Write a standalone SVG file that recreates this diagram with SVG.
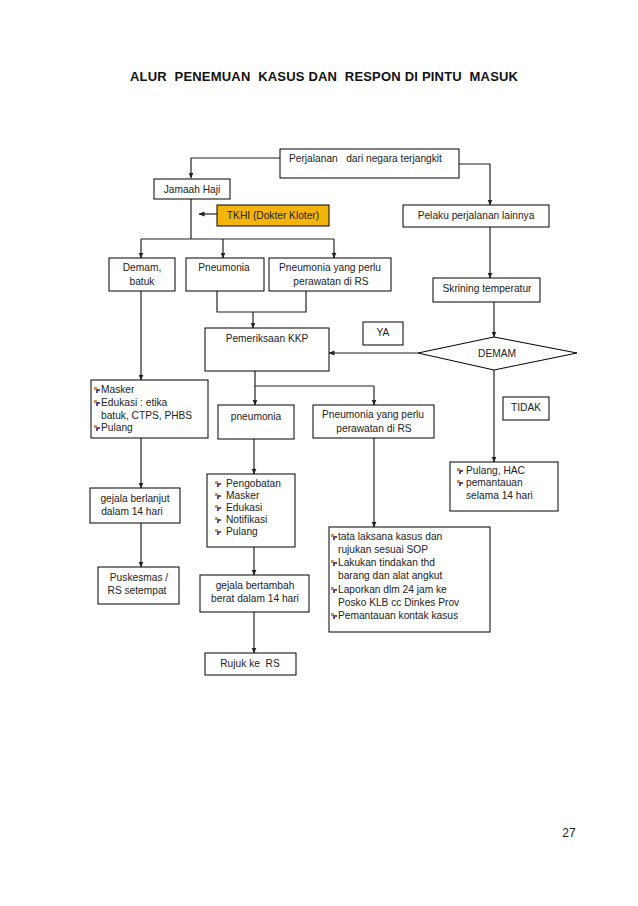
<svg xmlns="http://www.w3.org/2000/svg" xmlns:xlink="http://www.w3.org/1999/xlink" width="638" height="906" viewBox="0 0 638 906">
<defs>
<style>
.b{fill:#fff;stroke:#000;stroke-width:1}
.t{font-family:"Liberation Sans",Arial,sans-serif;font-size:10.2px;fill:#222}
.c{text-anchor:middle}
.l{fill:none;stroke:#222;stroke-width:1.2}
</style>
<marker id="ah" markerWidth="6" markerHeight="6" refX="5.5" refY="3" orient="auto" markerUnits="userSpaceOnUse">
<path d="M0,0.5 L6,3 L0,5.5 z" fill="#222"/>
</marker>
<symbol id="bul" viewBox="0 0 8 8">
<path d="M1,1 L3,1 L3,4 L1,4 z" fill="#e08a3c"/>
<path d="M3,3 L7,3 L7,5 L5,5 L5,7 L3,7 z" fill="#5a4a9a"/>
<path d="M3,1 L4,1 L4,3 L3,3 z" fill="#e0a050"/>
</symbol>
</defs>
<rect width="638" height="906" fill="#fff"/>
<text x="324" y="81" font-family="Liberation Sans,Arial,sans-serif" font-size="13" font-weight="bold" text-anchor="middle" fill="#111" textLength="388" lengthAdjust="spacing" xml:space="preserve">ALUR  PENEMUAN  KASUS DAN  RESPON DI PINTU  MASUK</text>

<g id="connectors">
<path class="l" d="M280,158 H191 V178" marker-end="url(#ah)"/>
<path class="l" d="M459,164 H490 V205" marker-end="url(#ah)"/>
<path class="l" d="M217,214 H199" marker-end="url(#ah)"/>
<path class="l" d="M191,198 V239"/>
<path class="l" d="M141,239 H334"/>
<path class="l" d="M141,239 V258" marker-end="url(#ah)"/>
<path class="l" d="M223,239 V258" marker-end="url(#ah)"/>
<path class="l" d="M334,239 V258" marker-end="url(#ah)"/>
<path class="l" d="M217,291 V312 H306 V291"/>
<path class="l" d="M253,312 V328" marker-end="url(#ah)"/>
<path class="l" d="M490,227 V278" marker-end="url(#ah)"/>
<path class="l" d="M494,302 V337" marker-end="url(#ah)"/>
<path class="l" d="M418,353 H329" marker-end="url(#ah)"/>
<path class="l" d="M141,291 V380" marker-end="url(#ah)"/>
<path class="l" d="M255,371 V386 H374"/>
<path class="l" d="M255,386 V405" marker-end="url(#ah)"/>
<path class="l" d="M374,386 V405" marker-end="url(#ah)"/>
<path class="l" d="M494,370 V462" marker-end="url(#ah)"/>
<path class="l" d="M141,438 V488" marker-end="url(#ah)"/>
<path class="l" d="M254,439 V474" marker-end="url(#ah)"/>
<path class="l" d="M374,438 V527" marker-end="url(#ah)"/>
<path class="l" d="M141,523 V567" marker-end="url(#ah)"/>
<path class="l" d="M254,547 V575" marker-end="url(#ah)"/>
<path class="l" d="M254,612 V653" marker-end="url(#ah)"/>
</g>

<g id="perjalanan"><rect class="b" x="280" y="149" width="179" height="29"/><text class="t" x="289" y="162" xml:space="preserve">Perjalanan   dari negara terjangkit</text></g>
<g id="jamaah"><rect class="b" x="154" y="179" width="76" height="20"/><text class="t c" x="192" y="193">Jamaah Haji</text></g>
<g id="tkhi"><rect x="217" y="205" width="112" height="21" fill="#f5b40a" stroke="#000" stroke-width="1"/><text class="t c" x="273" y="219">TKHI (Dokter Kloter)</text></g>
<g id="pelaku"><rect class="b" x="403" y="205" width="146" height="22"/><text class="t c" x="476" y="219">Pelaku perjalanan lainnya</text></g>
<g id="demam-batuk"><rect class="b" x="109" y="258" width="66" height="33"/><text class="t c" x="142" y="271">Demam,</text><text class="t c" x="142" y="285">batuk</text></g>
<g id="pneumonia1"><rect class="b" x="186" y="258" width="78" height="33"/><text class="t c" x="224" y="271">Pneumonia</text></g>
<g id="pneumonia-rs1"><rect class="b" x="269" y="258" width="122" height="33"/><text class="t c" x="330" y="271">Pneumonia yang perlu</text><text class="t c" x="331" y="285">perawatan di RS</text></g>
<g id="skrining"><rect class="b" x="433" y="278" width="107" height="24"/><text class="t c" x="487" y="292">Skrining temperatur</text></g>
<g id="kkp"><rect class="b" x="205" y="328" width="124" height="43"/><text class="t c" x="267" y="342">Pemeriksaan KKP</text></g>
<g id="ya"><rect class="b" x="363" y="322" width="40" height="23"/><text class="t c" x="383" y="336">YA</text></g>
<g id="demam"><path class="b" d="M418,353 L494,337 L577,353 L494,370 z"/><text class="t c" x="497" y="357">DEMAM</text></g>
<g id="masker"><rect class="b" x="91" y="380" width="117" height="58"/>
<use xlink:href="#bul" x="93" y="386" width="8" height="8"/><text class="t" x="101" y="393">Masker</text>
<use xlink:href="#bul" x="93" y="399" width="8" height="8"/><text class="t" x="101" y="406">Edukasi : etika</text>
<text class="t" x="101" y="419">batuk, CTPS, PHBS</text>
<use xlink:href="#bul" x="93" y="424" width="8" height="8"/><text class="t" x="101" y="431">Pulang</text></g>
<g id="pneumonia2"><rect class="b" x="218" y="405" width="76" height="34"/><text class="t c" x="256" y="420">pneumonia</text></g>
<g id="pneumonia-rs2"><rect class="b" x="313" y="405" width="121" height="33"/><text class="t c" x="373" y="418">Pneumonia yang perlu</text><text class="t c" x="374" y="432">perawatan di RS</text></g>
<g id="tidak"><rect class="b" x="503" y="397" width="46" height="23"/><text class="t c" x="526" y="411">TIDAK</text></g>
<g id="pulang-hac"><rect class="b" x="450" y="462" width="108" height="49"/>
<use xlink:href="#bul" x="456" y="467" width="8" height="8"/><text class="t" x="466" y="474">Pulang, HAC</text>
<use xlink:href="#bul" x="456" y="479" width="8" height="8"/><text class="t" x="466" y="486">pemantauan</text>
<text class="t" x="466" y="499">selama 14 hari</text></g>
<g id="gejala-berlanjut"><rect class="b" x="90" y="488" width="90" height="35"/><text class="t c" x="135" y="502">gejala berlanjut</text><text class="t c" x="132" y="515">dalam 14 hari</text></g>
<g id="pengobatan"><rect class="b" x="207" y="474" width="88" height="73"/>
<use xlink:href="#bul" x="214" y="480" width="8" height="8"/><text class="t" x="226" y="487">Pengobatan</text>
<use xlink:href="#bul" x="214" y="492" width="8" height="8"/><text class="t" x="226" y="499">Masker</text>
<use xlink:href="#bul" x="214" y="504" width="8" height="8"/><text class="t" x="226" y="511">Edukasi</text>
<use xlink:href="#bul" x="214" y="516" width="8" height="8"/><text class="t" x="226" y="523">Notifikasi</text>
<use xlink:href="#bul" x="214" y="528" width="8" height="8"/><text class="t" x="226" y="535">Pulang</text></g>
<g id="tata-laksana"><rect class="b" x="329" y="527" width="161" height="105"/>
<use xlink:href="#bul" x="330" y="533" width="8" height="8"/><text class="t" x="338" y="540">tata laksana kasus  dan</text>
<text class="t" x="338" y="553">rujukan sesuai SOP</text>
<use xlink:href="#bul" x="330" y="559" width="8" height="8"/><text class="t" x="338" y="566">Lakukan  tindakan thd</text>
<text class="t" x="338" y="579">barang dan alat angkut</text>
<use xlink:href="#bul" x="330" y="586" width="8" height="8"/><text class="t" x="338" y="593">Laporkan dlm 24 jam ke</text>
<text class="t" x="338" y="606">Posko KLB cc Dinkes Prov</text>
<use xlink:href="#bul" x="330" y="612" width="8" height="8"/><text class="t" x="338" y="619">Pemantauan kontak kasus</text></g>
<g id="puskesmas"><rect class="b" x="98" y="567" width="81" height="37"/><text class="t c" x="139" y="581">Puskesmas /</text><text class="t c" x="137" y="594">RS setempat</text></g>
<g id="gejala-bertambah"><rect class="b" x="200" y="575" width="109" height="37"/><text class="t c" x="255" y="589">gejala bertambah</text><text class="t c" x="255" y="602">berat dalam 14 hari</text></g>
<g id="rujuk"><rect class="b" x="205" y="653" width="91" height="22"/><text class="t c" x="250" y="667" xml:space="preserve">Rujuk ke  RS</text></g>
<text x="569" y="837" font-family="Liberation Sans,Arial,sans-serif" font-size="12" text-anchor="middle" fill="#222">27</text>
</svg>
